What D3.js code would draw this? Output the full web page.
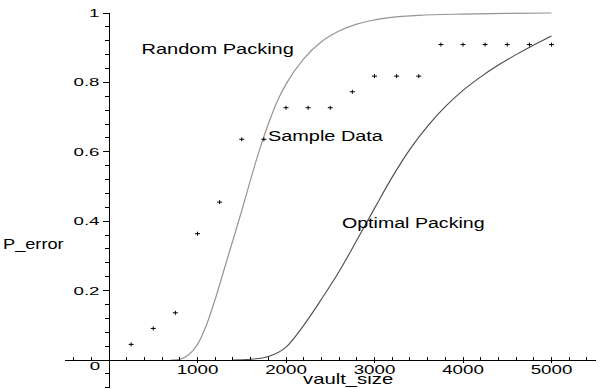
<!DOCTYPE html>
<html>
<head>
<meta charset="utf-8">
<script src="https://cdn.jsdelivr.net/npm/d3@7/dist/d3.min.js"></script>
<style>
  body { margin: 0; background: #fff; }
  svg { display: block; }
  text { font-family: "Liberation Sans", Arial, sans-serif; fill: #000; }
</style>
</head>
<body>
<div id="chart"></div>
<script>
// sample data (vault_size vs measured error probability)
var sampleSize = [250, 500, 750, 1000, 1250, 1500, 1750, 2000, 2250, 2500,
                  2750, 3000, 3250, 3500, 3750, 4000, 4250, 4500, 4750, 5000];
var sampleErr = [0.045, 0.091, 0.136, 0.364, 0.455, 0.636, 0.636, 0.727, 0.727, 0.727,
                 0.773, 0.818, 0.818, 0.818, 0.909, 0.909, 0.909, 0.909, 0.909, 0.909];

// random packing curve
var randomSize = [700, 800, 900, 1000, 1100, 1200, 1300, 1400, 1500, 1600, 1700, 1800,
                  1900, 2000, 2200, 2400, 2600, 2800, 3000, 3500, 4000, 4500, 5000];
var randomErr = [0, 0.002, 0.015, 0.045, 0.10, 0.175, 0.26, 0.345, 0.43, 0.52, 0.605, 0.68,
                 0.745, 0.795, 0.868, 0.917, 0.948, 0.968, 0.98, 0.993, 0.997, 0.999, 1.0];

// optimal packing curve
var optimalSize = [1400, 1600, 1800, 2000, 2200, 2400, 2600, 2800, 3000, 3200,
                   3400, 3600, 3800, 4000, 4200, 4400, 4600, 4800, 5000];
var optimalErr = [0, 0.002, 0.01, 0.037, 0.10, 0.175, 0.255, 0.345, 0.437, 0.527,
                  0.607, 0.674, 0.73, 0.777, 0.816, 0.85, 0.88, 0.908, 0.934];

// tick labels
var xTicks = [1000, 2000, 3000, 4000, 5000];
var yTicks = [0.2, 0.4, 0.6, 0.8, 1];

var width = 600, height = 389;

var svg = d3.select("#chart").append("svg")
    .attr("width", width)
    .attr("height", height);

// set the ranges
var x = d3.scaleLinear().domain([0, 5000]).range([109, 551.5]);
var y = d3.scaleLinear().domain([0, 1]).range([360, 13]);

// text is stretched sideways in the original, so scale it in x
function label(str, px, py, size, sx, anchor) {
    svg.append("text")
        .attr("transform", "translate(" + px + "," + py + ") scale(" + sx + ",1)")
        .attr("text-anchor", anchor || "start")
        .style("font-size", size + "px")
        .text(str);
}

function toPoints(xs, ys) {
    return xs.map(function(d, i) { return {s: d, p: ys[i]}; });
}

var line = d3.line()
    .curve(d3.curveMonotoneX)
    .x(function(d) { return x(d.s); })
    .y(function(d) { return y(d.p); });

// the two model curves
svg.append("path")
    .datum(toPoints(randomSize, randomErr))
    .attr("d", line)
    .attr("fill", "none")
    .attr("stroke", "#959595")
    .attr("stroke-width", 1.2);

svg.append("path")
    .datum(toPoints(optimalSize, optimalErr))
    .attr("d", line)
    .attr("fill", "none")
    .attr("stroke", "#4a4a4a")
    .attr("stroke-width", 1.1);

// axes lines
var axes = svg.append("g").attr("stroke", "#000").attr("stroke-width", 1).attr("shape-rendering", "crispEdges");
axes.append("line")
    .attr("x1", x(-500)).attr("x2", x(5500))
    .attr("y1", y(0)).attr("y2", y(0));
axes.append("line")
    .attr("x1", x(0)).attr("x2", x(0))
    .attr("y1", y(1)).attr("y2", y(-0.08));

// x ticks, minor every 200
var xMinor = d3.range(-400, 5500, 200).filter(function(d) { return d % 1000 !== 0; });
axes.selectAll(".xminor").data(xMinor).enter().append("line")
    .attr("x1", function(d) { return x(d); }).attr("x2", function(d) { return x(d); })
    .attr("y1", y(0) - 3).attr("y2", y(0));
axes.selectAll(".xmajor").data(xTicks).enter().append("line")
    .attr("x1", function(d) { return x(d); }).attr("x2", function(d) { return x(d); })
    .attr("y1", y(0) - 3).attr("y2", y(0) + 3);

// y ticks, minor every 0.04
var yMinor = d3.range(-2, 25).map(function(i) { return i * 0.04; })
    .filter(function(d) { return Math.abs(d * 5 - Math.round(d * 5)) > 1e-6; });
axes.selectAll(".yminor").data(yMinor).enter().append("line")
    .attr("x1", x(0) - 4).attr("x2", x(0) + 1)
    .attr("y1", function(d) { return y(d); }).attr("y2", function(d) { return y(d); });
axes.selectAll(".ymajor").data(yTicks).enter().append("line")
    .attr("x1", x(0) - 6).attr("x2", x(0))
    .attr("y1", function(d) { return y(d); }).attr("y2", function(d) { return y(d); });

// tick labels
xTicks.forEach(function(d) { label(d, x(d), 374, 12.5, 1.5, "middle"); });
yTicks.forEach(function(d) { label(d, 99.5, y(d) + 4, 11, 1.7, "end"); });
label("0", 95, 369.5, 11, 1.7, "middle");

// sample data as small crosses
var cross = svg.append("g").attr("stroke", "#000").attr("stroke-width", 1);
cross.selectAll(".h").data(toPoints(sampleSize, sampleErr)).enter().append("line")
    .attr("x1", function(d) { return x(d.s) - 2.5; }).attr("x2", function(d) { return x(d.s) + 2.5; })
    .attr("y1", function(d) { return y(d.p); }).attr("y2", function(d) { return y(d.p); });
cross.selectAll(".v").data(toPoints(sampleSize, sampleErr)).enter().append("line")
    .attr("x1", function(d) { return x(d.s); }).attr("x2", function(d) { return x(d.s); })
    .attr("y1", function(d) { return y(d.p) - 2; }).attr("y2", function(d) { return y(d.p) + 2; });

// curve names and axis titles
label("Random Packing", 141.5, 54, 14, 1.43);
label("Sample Data", 268, 140.5, 14, 1.42);
label("Optimal Packing", 342, 227.5, 14, 1.4);
label("P_error", 3, 249, 14, 1.3);
label("vault_size", 303, 383.5, 14, 1.45);
</script>
</body>
</html>
